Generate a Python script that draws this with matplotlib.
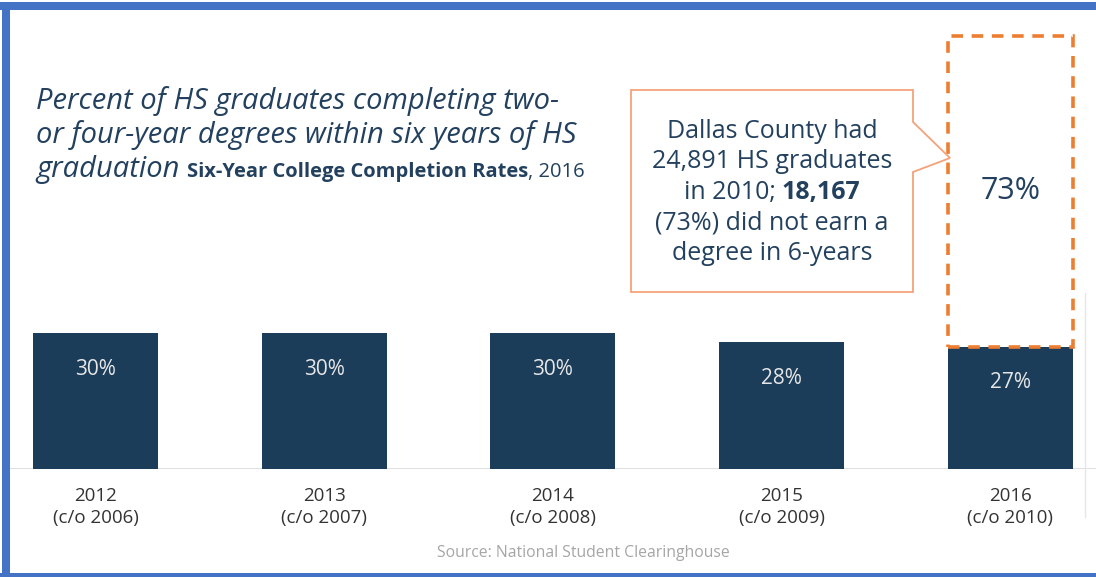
import matplotlib
matplotlib.use("Agg")
import matplotlib.pyplot as plt
import numpy as np
from matplotlib.patches import Rectangle, Polygon
from matplotlib.lines import Line2D
from matplotlib.transforms import IdentityTransform

plt.rcParams["font.family"] = ["Open Sans", "DejaVu Sans"]

# data
years = ["2012", "2013", "2014", "2015", "2016"]
cohorts = ["2006", "2007", "2008", "2009", "2010"]
completion_pct = [30, 30, 30, 28, 27]
not_earned_pct = 73          # shown as dashed box on top of the last bar
box_scale = 0.94             # reference draws the dashed box slightly compressed

W, H = 1096, 577
BAR = "#1C3D5A"
NAVY = "#23415F"
ORANGE = "#ED7D31"
LIGHT_ORANGE = "#F4A27A"
FRAME = "#4472C4"

fig = plt.figure(figsize=(W / 100, H / 100), dpi=100)
ax = fig.add_axes([10 / W, 108 / H, (W - 10) / W, (H - 10 - 108) / H])

x = np.arange(len(years))
bars = ax.bar(x, completion_pct, width=0.547, color=BAR, zorder=2)
ax.bar(x[-1], not_earned_pct * box_scale, bottom=completion_pct[-1], width=0.547,
       fill=False, edgecolor=ORANGE, linewidth=2.6, linestyle=(0, (3.2, 2.4)), zorder=3)
ax.text(x[-1], completion_pct[-1] + not_earned_pct * box_scale / 2, f"{not_earned_pct}%",
        ha="center", va="center", fontsize=22, color=NAVY)

for b, v in zip(bars, completion_pct):
    ax.annotate(f"{v}%", (b.get_x() + b.get_width() / 2, v), xytext=(0, -26),
                textcoords="offset points", ha="center", va="center",
                fontsize=15, color="#E6E6E6")

ax.set_xlim(-0.374, 4.375)
ax.set_ylim(0, 101.3)
ax.axhline(0, color="#D9D9D9", linewidth=1.2, zorder=1)
for s in ax.spines.values():
    s.set_visible(False)
ax.set_yticks([])
ax.set_xticks(x, labels=[f"{y}\n(c/o {c})" for y, c in zip(years, cohorts)])
ax.tick_params(axis="x", length=0, pad=13, labelsize=13.5, labelcolor="#333333")
for lbl in ax.get_xticklabels():
    lbl.set_linespacing(1.25)

fig.text(583 / W, (H - 553) / H, "Source: National Student Clearinghouse",
         ha="center", va="center", fontsize=11.3, color="#A6A6A6")


def runs(xc, ybase, parts, ha="left"):
    """Draw text runs side by side on one baseline (pixel coords, y from top)."""
    r = fig.canvas.get_renderer()
    texts = []
    for s, kw in parts:
        t = fig.text(0, 0, s, transform=IdentityTransform(), va="baseline", ha="left", **kw)
        texts.append(t)
    widths = [t.get_window_extent(r).width for t in texts]
    total = sum(widths)
    cur = xc - total / 2 if ha == "center" else xc
    for t, w in zip(texts, widths):
        t.set_position((cur, H - ybase))
        cur += w


tkw = dict(fontsize=21, style="italic", color=NAVY)
runs(36, 109, [("Percent of HS graduates completing two-", tkw)])
runs(36, 143, [("or four-year degrees within six years of HS", tkw)])
runs(36, 177, [("graduation ", tkw),
               ("Six-Year College Completion Rates", dict(fontsize=14.5, weight="bold", color=NAVY)),
               (", 2016", dict(fontsize=14.5, color=NAVY))])

# callout box
pts = [(631, 90), (913, 90), (913, 122), (950, 158), (913, 172), (913, 292), (631, 292)]
fig.patches.append(Polygon([(px, H - py) for px, py in pts], closed=True, fill=True,
                           facecolor="white", edgecolor=LIGHT_ORANGE, linewidth=1.3,
                           transform=IdentityTransform(), zorder=5))
ckw = dict(fontsize=18, color=NAVY, zorder=6)
runs(772, 138, [("Dallas County had", ckw)], ha="center")
runs(772, 168, [("24,891 HS graduates", ckw)], ha="center")
runs(772, 199, [("in 2010; ", ckw), ("18,167", dict(ckw, weight="bold"))], ha="center")
runs(772, 229, [("(73%) did not earn a", ckw)], ha="center")
runs(772, 260, [("degree in 6-years", ckw)], ha="center")

# slide frame
for rx, ry, rw, rh in [(0, H - 10, W, 8), (2, 0, 8, H - 2), (0, 0, W, 4)]:
    fig.patches.append(Rectangle((rx, ry), rw, rh, facecolor=FRAME, edgecolor="none",
                                 transform=IdentityTransform(), zorder=10))
fig.lines.append(Line2D([1085, 1085], [H - 517, H - 293], color="#E6E6E6",
                        linewidth=1, transform=IdentityTransform()))

fig.savefig("out.png", dpi=100)
